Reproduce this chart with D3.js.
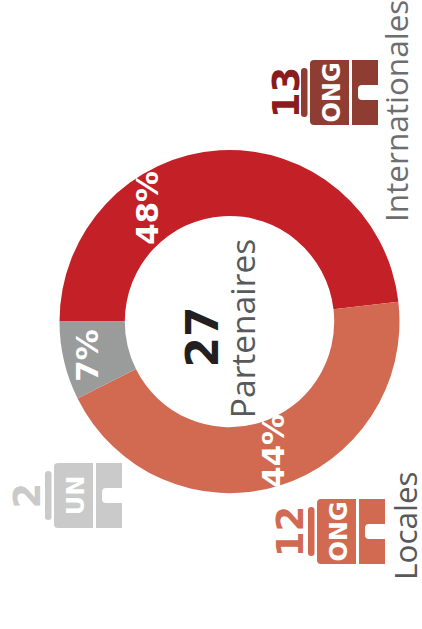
<!DOCTYPE html>
<html><head><meta charset="utf-8">
<script src="https://cdn.jsdelivr.net/npm/d3@7"></script>
<style>html,body{margin:0;padding:0;background:#fff;overflow:hidden}svg{display:block}</style>
</head><body><svg id="c" width="422" height="629"></svg>
<script>
const categories = ["ONG Internationales", "ONG Locales", "UN"];
const counts = [13, 12, 2];
const percentLabels = ["48%", "44%", "7%"];
const iconCodes = ["ONG", "ONG", "UN"];
const groupLabels = ["Internationales", "Locales", ""];
const sliceColors = ["#c32127", "#d26a52", "#9a9c9c"];
const iconColors = ["#8f3d33", "#d26a52", "#c9cac9"];
const numberColors = ["#8a1c1e", "#d26a52", "#c9cac9"];
const totalValue = "27";
const totalLabel = "Partenaires";

const svg = d3.select("#c");
const cx = 229.5, cy = 321.6, R = 170, r = 104.7;
const FONT = "'DejaVu Sans',Verdana,sans-serif";
const FONT2 = "'Open Sans',sans-serif";
const g = svg.append("g").attr("transform", `translate(${cx},${cy}) scale(1,1.009)`);
const pie = d3.pie().sort(null).startAngle(-Math.PI/2).endAngle(1.5*Math.PI);
const arc = d3.arc().innerRadius(r).outerRadius(R);
const arcs = pie(counts);
g.selectAll("path").data(arcs).join("path").attr("d", arc).attr("fill", (d,i)=>sliceColors[i]);

function vtext(x, y, str, size, weight, fill, anchor, fam) {
  return svg.append("text").attr("transform", `translate(${x},${y}) rotate(-90)`)
    .attr("font-family", fam || FONT).attr("font-size", size).attr("font-weight", weight)
    .attr("fill", fill).attr("text-anchor", anchor || "middle").text(str);
}
const labelPos = [[158,208],[284,451],[98,355.5]];
percentLabels.forEach((t,i)=>vtext(labelPos[i][0], labelPos[i][1], t, 31, "bold", "#fff"));

vtext(218, 337, totalValue, 44, "bold", "#231f20");
vtext(254.5, 328.5, totalLabel, 33.5, "normal", "#58595b", "middle", FONT2);

const iconPos = [[310,60],[317,499],[54,463]];
const numberOffsets = [-11,-14,-14];
iconPos.forEach((p,i)=>{
  const c = iconColors[i];
  const ic = svg.append("g").attr("transform", `translate(${p[0]},${p[1]})`);
  ic.append("path").attr("fill", c)
    .attr("d","M4 0H39V65H4Q0 65 0 61V4Q0 0 4 0Z");
  ic.append("path").attr("fill", c)
    .attr("d","M42 0H68V25H52Q48 25 48 29V36Q48 40 52 40H68V65H42Z");
  ic.append("rect").attr("x",-9).attr("y",8).attr("width",6.5).attr("height",49).attr("rx",3.2).attr("fill", c);
  ic.append("text").attr("transform","translate(30,32.5) rotate(-90)")
    .attr("font-family",FONT).attr("font-size",24).attr("font-weight","bold")
    .attr("fill","#fff").attr("text-anchor","middle").text(iconCodes[i]);
  ic.append("text").attr("transform",`translate(${numberOffsets[i]},32.5) rotate(-90)`)
    .attr("font-family",FONT).attr("font-size",37).attr("font-weight","bold")
    .attr("fill",numberColors[i]).attr("text-anchor","middle").text(counts[i]);
});
vtext(407.5, 222, groupLabels[0], 31.5, "normal", "#6d6e71", "start", FONT2);
vtext(417, 580, groupLabels[1], 31.5, "normal", "#58595b", "start", FONT2);
</script></body></html>
